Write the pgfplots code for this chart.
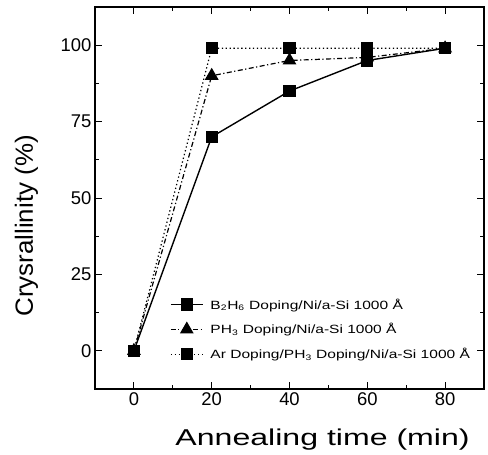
\documentclass[border=0pt]{standalone}
\usepackage{pgfplots}
\pgfplotsset{compat=1.18}
\usepackage{fontspec}
\setmainfont{Liberation Sans}
\newcommand{\leg}[1]{\hspace*{5bp}\scalebox{1.3}[1]{\fontsize{12}{13}\selectfont #1}}
\begin{document}
\begin{tikzpicture}
\begin{axis}[
  scale only axis,
  width=389bp, height=382bp,
  xmin=-10, xmax=90, ymin=-12.5, ymax=112.5,
  xtick={0,20,40,60,80}, ytick={0,25,50,75,100},
  minor x tick num=1, minor y tick num=1,
  tick align=inside,
  major tick length=7bp, minor tick length=4bp,
  axis line style={line width=1.1pt},
  every tick/.style={black, line width=0.9pt},
  /pgf/number format/assume math mode=true,
  tick label style={font=\fontsize{18.5}{20}\selectfont},
  xlabel={\scalebox{1.4}[1]{\fontsize{23}{25}\selectfont Annealing time (min)}},
  ylabel={\scalebox{1.04}[1]{\fontsize{25}{27}\selectfont Crysrallinity (\%)}},
  xlabel style={at={(rel axis cs:0.585,-0.1492)}, anchor=base},
  ylabel style={at={(rel axis cs:-0.1594,0.427)}, anchor=base},
  legend style={draw=none, fill=none, at={(rel axis cs:0.19,0.245)}, anchor=north west,
    row sep=9bp, inner sep=1bp},
  legend cell align=left,
  legend image code/.code={%
    \draw[mark repeat=2, mark phase=2, #1]
      plot coordinates {(0bp,0bp) (16bp,0bp) (32bp,0bp)};},
]
\addplot[black, line width=1.4pt, mark=square*, mark size=5.5bp]
  coordinates {(0,0) (20,70) (40,85) (60,95) (80,99)};
\addlegendentry{\leg{B\textsubscript{2}H\textsubscript{6} Doping/Ni/a-Si 1000 Å}}
\addplot[black, line width=1.2pt, dash pattern=on 5pt off 2.5pt on 1.2pt off 2.5pt,
  mark=triangle*, mark size=6.8bp, mark options={solid}]
  coordinates {(0,0) (20,90) (40,95) (60,96) (80,99)};
\addlegendentry{\leg{PH\textsubscript{3} Doping/Ni/a-Si 1000 Å}}
\addplot[black, line width=1.2pt, dash pattern=on 1.3pt off 2.6pt,
  mark=square*, mark size=5.5bp, mark options={solid}]
  coordinates {(0,0) (20,99) (40,99) (60,99) (80,99)};
\addlegendentry{\leg{Ar Doping/PH\textsubscript{3} Doping/Ni/a-Si 1000 Å}}
\coordinate (sw) at (rel axis cs:0,0);
\coordinate (ne) at (rel axis cs:1,1);
\end{axis}
\path ([shift={(-95bp,-63bp)}]sw) rectangle ([shift={(4bp,7bp)}]ne);
\end{tikzpicture}
\end{document}
